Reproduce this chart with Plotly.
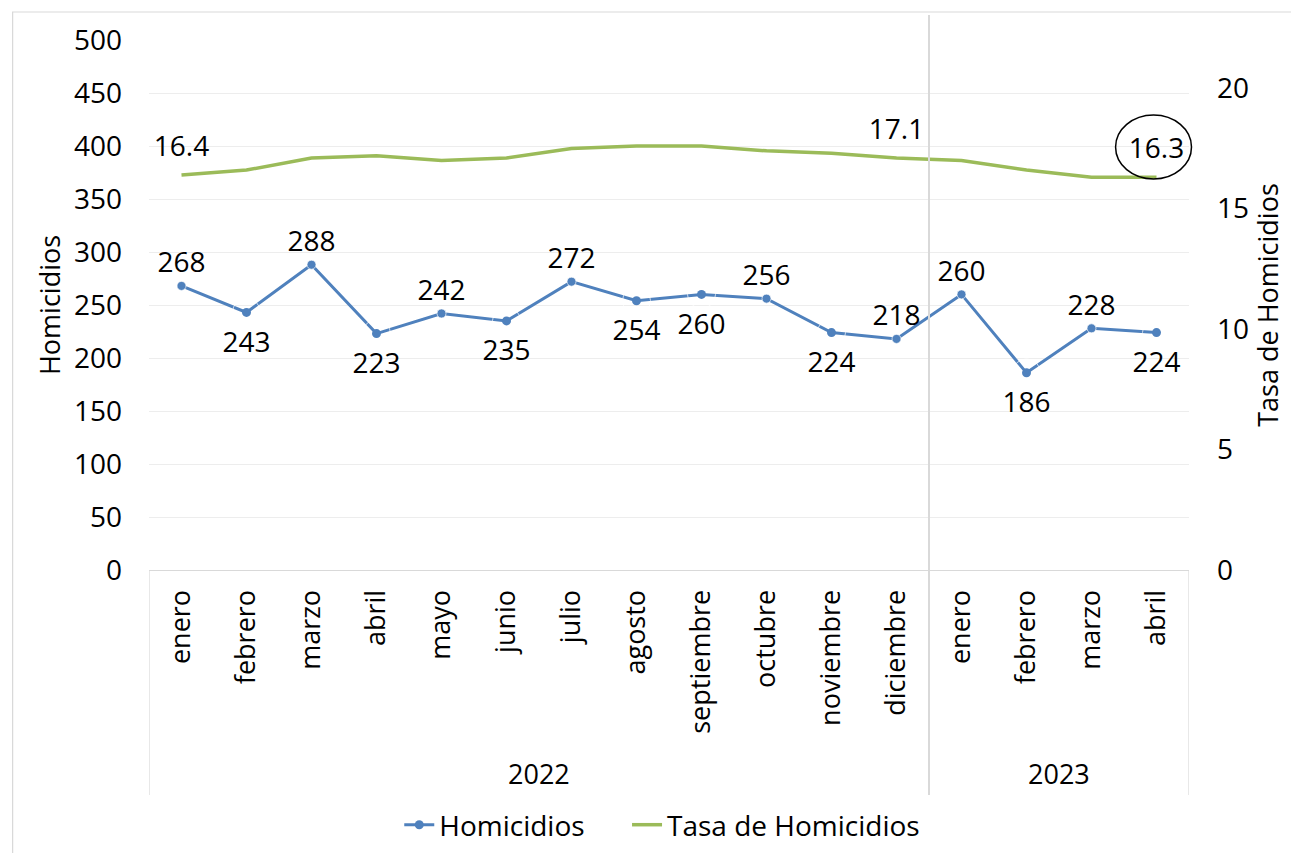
import plotly.graph_objects as go

months = ["enero", "febrero", "marzo", "abril", "mayo", "junio", "julio", "agosto",
          "septiembre", "octubre", "noviembre", "diciembre",
          "enero", "febrero", "marzo", "abril"]
years = ["2022", "2023"]
year_counts = [12, 4]
homicidios = [268, 243, 288, 223, 242, 235, 272, 254, 260, 256, 224, 218, 260, 186, 228, 224]
tasa = [16.4, 16.6, 17.1, 17.2, 17.0, 17.1, 17.5, 17.6, 17.6, 17.4, 17.3, 17.1, 17.0, 16.6, 16.3, 16.3]
tasa_labelled = [0, 11, 15]
hom_label_side = ["top", "bottom", "top", "bottom", "top", "bottom", "top", "bottom",
                  "bottom", "top", "bottom", "top", "top", "bottom", "top", "bottom"]

FONT = "Open Sans"
BLUE = "#4f81bd"
GREEN = "#9bbb59"
GRID = "#ededed"
AXIS = "#d9d9d9"
TXT = 27
NUM = 28

xs = list(range(len(months)))
tasa_text = [f"{v:.1f}" if i in tasa_labelled else "" for i, v in enumerate(tasa)]

fig = go.Figure()
fig.add_trace(go.Scatter(
    x=xs, y=homicidios, name="Homicidios", mode="lines+markers",
    line=dict(color=BLUE, width=3), marker=dict(color=BLUE, size=9),
    yaxis="y", hoverinfo="skip", legend="legend",
))
fig.add_trace(go.Scatter(
    x=xs, y=tasa, name="Tasa de Homicidios", mode="lines",
    line=dict(color=GREEN, width=3.5),
    yaxis="y2", hoverinfo="skip", legend="legend2",
))
# data labels (transparent markers only set the label offset)
fig.add_trace(go.Scatter(
    x=xs, y=homicidios, mode="markers+text", showlegend=False,
    marker=dict(size=[9 if s == "top" else 28 for s in hom_label_side], color="rgba(0,0,0,0)"),
    text=[str(v) for v in homicidios],
    textposition=[s + " center" for s in hom_label_side],
    textfont=dict(size=NUM, color="#000000", family=FONT),
    yaxis="y", cliponaxis=False, hoverinfo="skip",
))
fig.add_trace(go.Scatter(
    x=xs, y=tasa, mode="markers+text", showlegend=False,
    marker=dict(size=18, color="rgba(0,0,0,0)"),
    text=tasa_text, textposition="top center",
    textfont=dict(size=NUM, color="#000000", family=FONT),
    yaxis="y2", cliponaxis=False, hoverinfo="skip",
))

# the page adds an 8px body margin; work in reference pixel coordinates
OFF = 8
W, H = 1299 - OFF, 853 - OFF
L, R, T, B = 148.5 - OFF, 1189.5 - OFF, 40 - OFF, 570 - OFF
def px(x):
    return (x - OFF - L) / (R - L)
def py(y):
    return (B - (y - OFF)) / (B - T)

shapes = []
shapes.append(dict(type="rect", xref="paper", yref="paper",
                   x0=px(12), x1=px(1330), y0=py(12), y1=py(890),
                   line=dict(color="#d9d9d9", width=1.2), layer="below"))
start = -0.5
bounds = [start]
for c in year_counts:
    start += c
    bounds.append(start)
for i, b in enumerate(bounds):
    inner = 0 < i < len(bounds) - 1
    shapes.append(dict(type="line", xref="x", yref="paper", x0=b, x1=b,
                       y0=py(795), y1=py(15) if inner else 0,
                       line=dict(color=AXIS, width=2 if inner else 1.2)))
shapes.append(dict(type="circle", xref="paper", yref="paper",
                   x0=px(1116), x1=px(1192), y0=py(179), y1=py(115),
                   line=dict(color="#000000", width=1.5)))

annotations = []
for i, yr in enumerate(years):
    center = (bounds[i] + bounds[i + 1]) / 2
    annotations.append(dict(x=center, y=py(773), xref="x", yref="paper", text=yr,
                            xanchor="center", yanchor="middle",
                            showarrow=False, font=dict(size=TXT, family=FONT, color="#000000")))

legend_common = dict(orientation="h", xanchor="left", y=py(825), yanchor="middle",
                     font=dict(size=28, family=FONT), itemwidth=30, bgcolor="rgba(0,0,0,0)")

fig.update_layout(
    width=W, height=H,
    paper_bgcolor="white", plot_bgcolor="white",
    margin=dict(l=L, r=W - R, t=T, b=H - B, autoexpand=False),
    font=dict(family=FONT, size=TXT, color="#000000"),
    showlegend=True,
    legend=dict(x=px(399), **legend_common),
    legend2=dict(x=px(627), **legend_common),
    xaxis=dict(range=[-0.5, len(months) - 0.5], tickvals=xs, ticktext=months,
               tickangle=-90, showgrid=False, zeroline=False, showline=True,
               linecolor=AXIS, linewidth=1.2, ticks="", ticklabelstandoff=8,
               tickfont=dict(size=TXT, family=FONT)),
    yaxis=dict(range=[0, 500], dtick=50, showgrid=True, gridcolor=GRID, gridwidth=1,
               zeroline=False, showline=False, ticks="", ticklabelstandoff=26,
               tickfont=dict(size=NUM, family=FONT),
               title=dict(text="Homicidios", standoff=5, font=dict(size=TXT, family=FONT))),
    yaxis2=dict(range=[0, 22], dtick=5, overlaying="y", side="right", showgrid=False,
                zeroline=False, showline=False, ticks="", ticklabelstandoff=27,
                tickfont=dict(size=NUM, family=FONT),
                title=dict(text="Tasa de Homicidios", standoff=9, font=dict(size=TXT, family=FONT))),
    shapes=shapes, annotations=annotations,
)

fig.write_html("out.html")
